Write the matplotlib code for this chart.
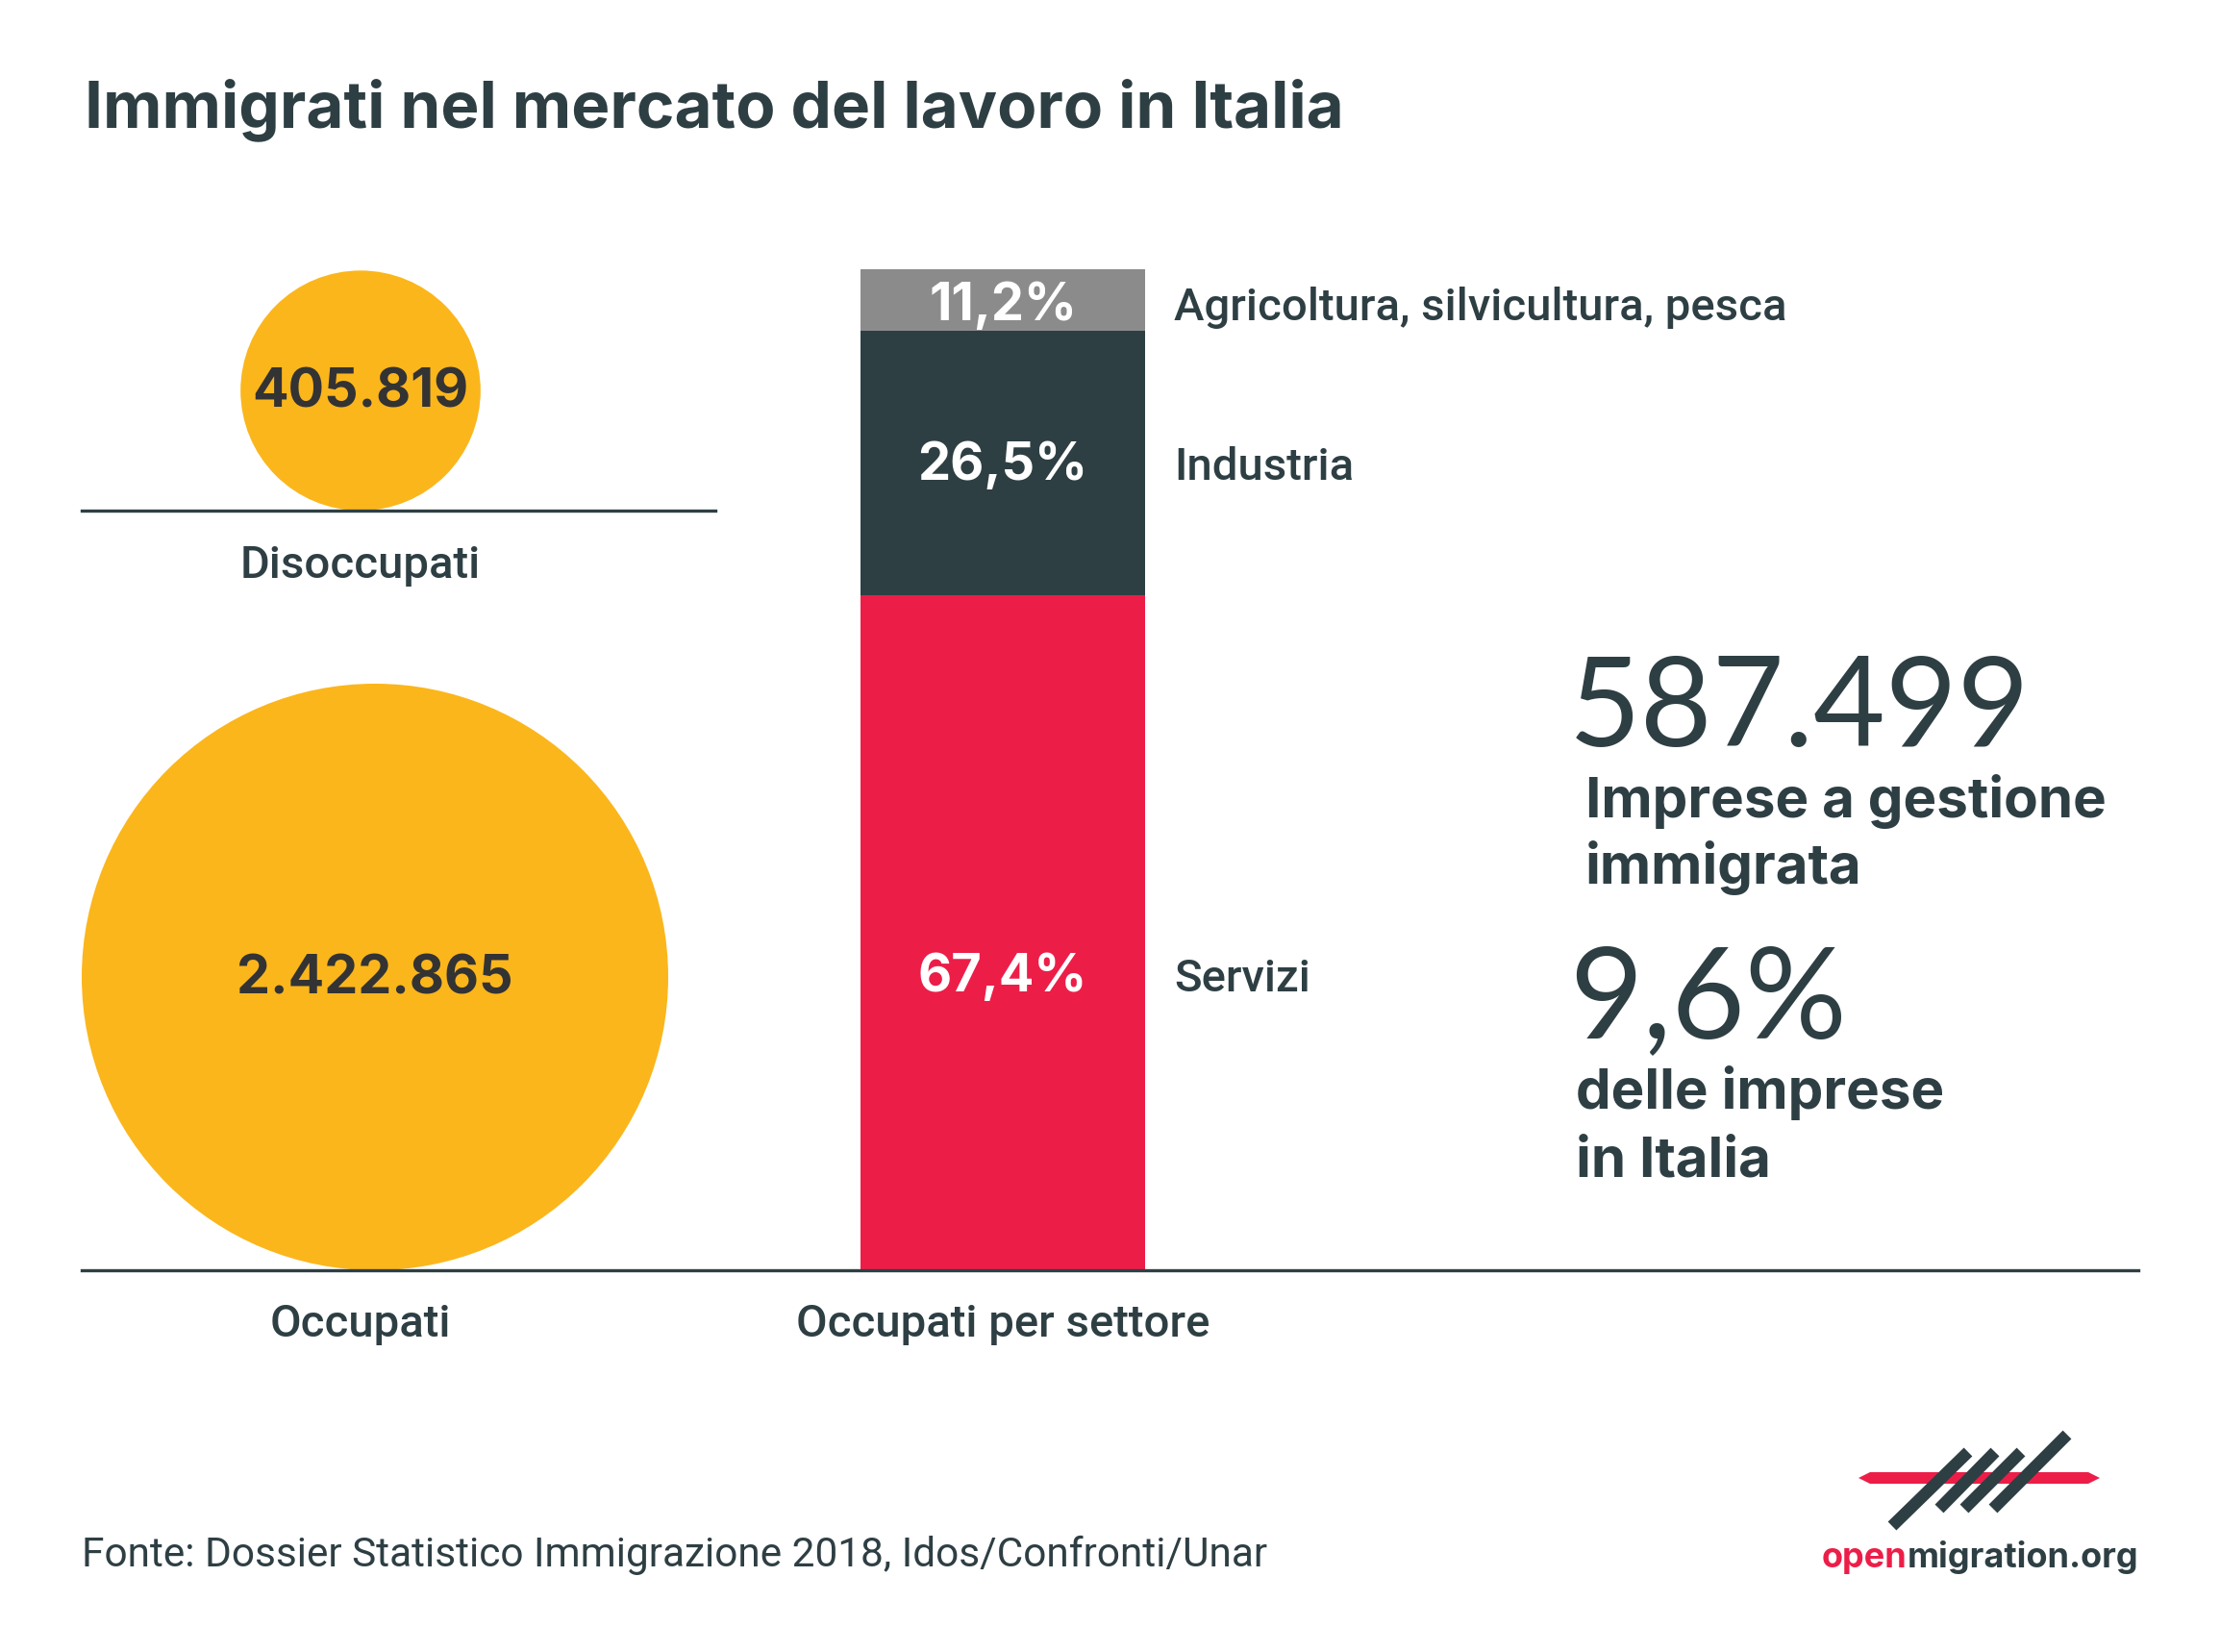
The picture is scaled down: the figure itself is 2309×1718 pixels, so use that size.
import numpy as np
import matplotlib.pyplot as plt
from matplotlib.patches import Circle, Polygon

# data
circle_labels = ['Disoccupati', 'Occupati']
circle_values = [405819, 2422865]
circle_texts = ['405.819', '2.422.865']

sectors = ['Servizi', 'Industria', 'Agricoltura, silvicultura, pesca']
sector_pct = [67.4, 26.5, 11.2]
sector_texts = ['67,4%', '26,5%', '11,2%']

imprese = '587.499'
imprese_quota = '9,6%'

DARK = '#2E3F44'
ORANGE = '#FBB61C'
RED = '#EC1E48'
GRAY = '#8B8B8B'
NUM = '#333333'

W, H = 2309, 1718
fig = plt.figure(figsize=(W / 100, H / 100), dpi=100)
fig.patch.set_facecolor('white')

# stacked bar, clipped at 100%
bx = fig.add_axes([895 / W, (H - 1321) / H, 296 / W, 1041 / H])
bx.set_xlim(-0.5, 0.5)
bx.set_ylim(0, 100)
bx.axis('off')
colors = [RED, DARK, GRAY]
bottom = 0
for v, c in zip(sector_pct, colors):
    h = min(v, 100 - bottom)
    bx.bar(0, h, bottom=bottom, width=1, color=c, lw=0)
    bottom += h

ax = fig.add_axes([0, 0, 1, 1])
ax.set_xlim(0, W)
ax.set_ylim(H, 0)
ax.axis('off')
ax.patch.set_visible(False)
ax.set_zorder(5)

GEO = 'Inter'
LAB = 'Roboto'

# title
ax.text(88, 132, 'Immigrati nel mercato del lavoro in Italia', fontsize=48.5,
        family=GEO, weight='bold', color=DARK, va='baseline')

# circles (radius ~ sqrt(value)), sitting on their base lines
k = 305 / np.sqrt(max(circle_values))
cx = [375, 390]
base = [531, 1321]
num_base = [423, 1034]
lab_base = [601, 1390]
for i in range(2):
    r = k * np.sqrt(circle_values[i])
    ax.add_patch(Circle((cx[i], base[i] - r), r, color=ORANGE, lw=0, zorder=2))
    ax.text(cx[i], num_base[i], circle_texts[i], fontsize=40, family=GEO,
            weight='bold', color=NUM, ha='center', va='baseline', zorder=3)
    ax.text(cx[i] - (0 if i == 0 else 15), lab_base[i], circle_labels[i],
            fontsize=34, family=LAB, weight='medium', color=DARK,
            ha='center', va='baseline')

ax.plot([85, 744], [531, 531], color=DARK, lw=2.4, zorder=4)
ax.plot([85, 2224], [1321, 1321], color=DARK, lw=2.4, zorder=4)

pct_base = [1031, 499, 333]
for t, s, yb in zip(sector_texts, sectors, pct_base):
    ax.text(1043, yb, t, fontsize=39, family=GEO, weight='bold', color='white',
            ha='center', va='baseline', zorder=5)
    ax.text(1221, yb, s, fontsize=34, family=LAB, weight='medium', color=DARK,
            va='baseline')

ax.text(1043, 1390, 'Occupati per settore', fontsize=34, family=LAB,
        weight='medium', color=DARK, ha='center', va='baseline')

# right-hand figures
ax.text(1632, 776, imprese, fontsize=93, family='Lato', weight='normal',
        color=DARK, va='baseline')
ax.text(1649, 850, 'Imprese a gestione', fontsize=42, family=GEO,
        weight='bold', color=DARK, va='baseline')
ax.text(1649, 919, 'immigrata', fontsize=42, family=GEO, weight='bold',
        color=DARK, va='baseline')
ax.text(1632, 1079, imprese_quota, fontsize=95, family='Lato', weight='normal',
        color=DARK, va='baseline')
ax.text(1639, 1153, 'delle imprese', fontsize=42, family=GEO, weight='bold',
        color=DARK, va='baseline')
ax.text(1639, 1224, 'in Italia', fontsize=42, family=GEO, weight='bold',
        color=DARK, va='baseline')

# source
ax.text(85, 1629, 'Fonte: Dossier Statistico Immigrazione 2018, Idos/Confronti/Unar',
        fontsize=30.5, family=LAB, color=DARK, va='baseline')

# logo
ax.add_patch(Polygon([(1933, 1537), (1945, 1531), (2172, 1531), (2184, 1537),
                      (2172, 1543), (1945, 1543)], closed=True, color=RED,
                     lw=0, zorder=5))
for (x0, y0, x1, y1) in [(1968, 1587, 2047, 1510), (2017, 1569, 2075, 1510),
                         (2043, 1569, 2102, 1510), (2073, 1569, 2150, 1492)]:
    ax.plot([x0, x1], [y0, y1], color=DARK, lw=9, solid_capstyle='butt',
            zorder=6)
t2 = ax.text(2224, 1630, 'migration.org', fontsize=26, family=GEO,
             weight='bold', color=DARK, va='baseline', ha='right')
fig.canvas.draw()
bb = t2.get_window_extent()
x_start = ax.transData.inverted().transform((bb.x0, bb.y0))[0]
ax.text(x_start, 1630, 'open', fontsize=26, family=GEO, weight='bold',
        color=RED, va='baseline', ha='right')

fig.savefig('out.png', dpi=100, facecolor='white')
